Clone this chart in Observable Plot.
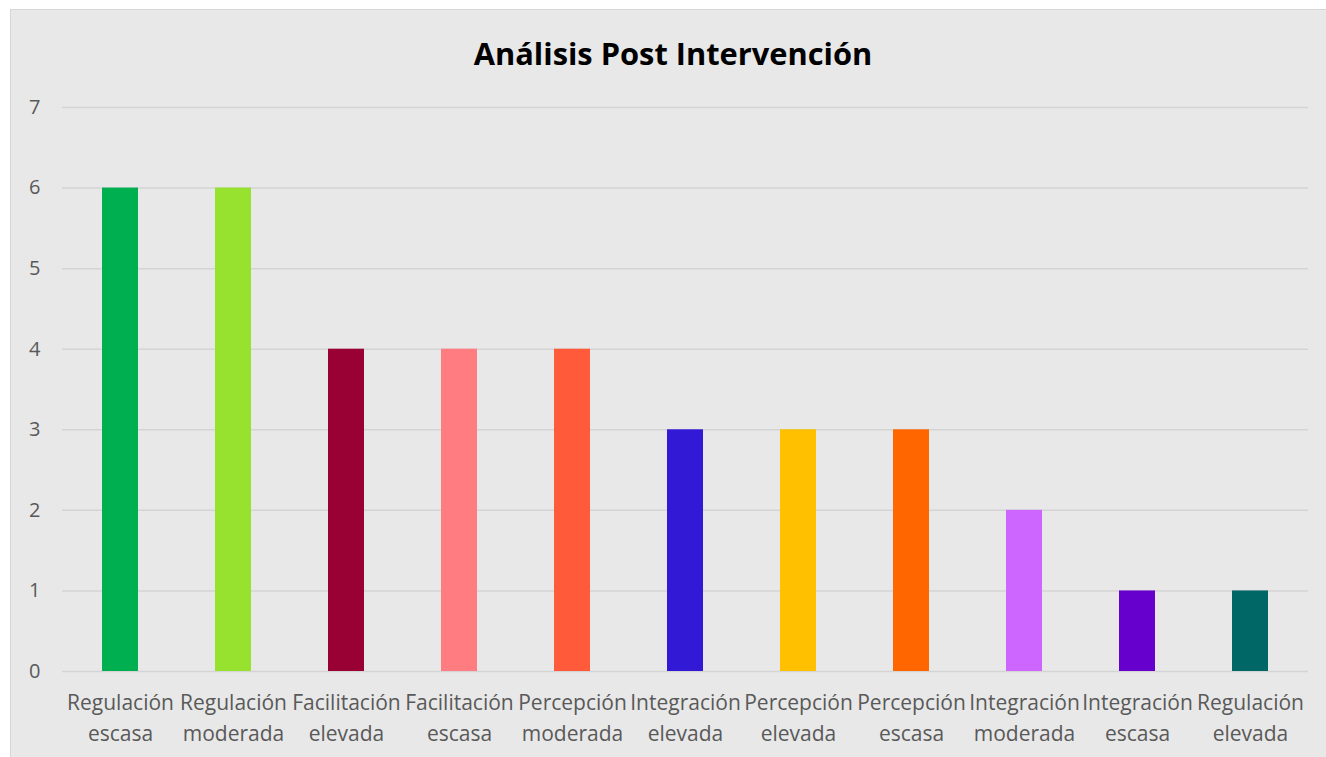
<!DOCTYPE html>
<html>
<head>
<meta charset="utf-8">
<script src="https://cdn.jsdelivr.net/npm/d3@7"></script>
<script src="https://cdn.jsdelivr.net/npm/@observablehq/plot@0.6"></script>
<style>
  body { margin: 0; background: #ffffff; }
  #wrap { position: relative; width: 1326px; height: 757px; overflow: hidden; }
  #bg { position: absolute; left: 10px; top: 9px; width: 1320px; height: 760px; background: #e8e8e8; border: 1px solid #d6d6d6; box-sizing: border-box; }
  #title { position: absolute; left: 10px; width: 1326px; top: 32px; text-align: center; font-family: "Open Sans", sans-serif; font-weight: bold; font-size: 30.8px; color: #000; }
  #chart { position: absolute; left: 0; top: 0; }
</style>
</head>
<body>
<div id="wrap">
  <div id="bg"></div>
  <div id="title">Análisis Post Intervención</div>
  <div id="chart"></div>
</div>
<script>
const categories = [
  "Regulación\nescasa", "Regulación\nmoderada", "Facilitación\nelevada", "Facilitación\nescasa",
  "Percepción\nmoderada", "Integración\nelevada", "Percepción\nelevada", "Percepción\nescasa",
  "Integración\nmoderada", "Integración\nescasa", "Regulación\nelevada"
];
const values = [6, 6, 4, 4, 4, 3, 3, 3, 2, 1, 1];
const colors = ["#00B050", "#96E22F", "#990033", "#FF7C80", "#FF5B3B", "#3219D6", "#FFC000", "#FF6600", "#CC66FF", "#6600CC", "#006666"];
const yTicks = [0, 1, 2, 3, 4, 5, 6, 7];

const data = categories.map((c, i) => ({ cat: c, value: values[i], color: colors[i] }));

const chart = Plot.plot({
  width: 1326,
  height: 757,
  marginLeft: 62,
  marginRight: 18,
  marginTop: 107,
  marginBottom: 86,
  style: { background: "transparent", fontFamily: "Open Sans, sans-serif", color: "#595959" },
  x: { domain: categories, paddingInner: 0.68, paddingOuter: 0.34, label: null },
  y: { domain: [0, 7], label: null },
  marks: [
    Plot.gridY(yTicks, { stroke: "#d4d4d4", strokeOpacity: 1, strokeWidth: 1.5 }),
    Plot.barY(data, { x: "cat", y: "value", fill: "color" }),
    Plot.axisY(yTicks, { tickSize: 0, tickPadding: 22, fontSize: 20, fill: "#595959", tickFormat: d3.format("d"), label: null }),
    Plot.axisX({ tickSize: 0, tickPadding: 17, fontSize: 21, lineHeight: 1.47, fill: "#595959", label: null })
  ]
});
document.getElementById("chart").appendChild(chart);
</script>
</body>
</html>
